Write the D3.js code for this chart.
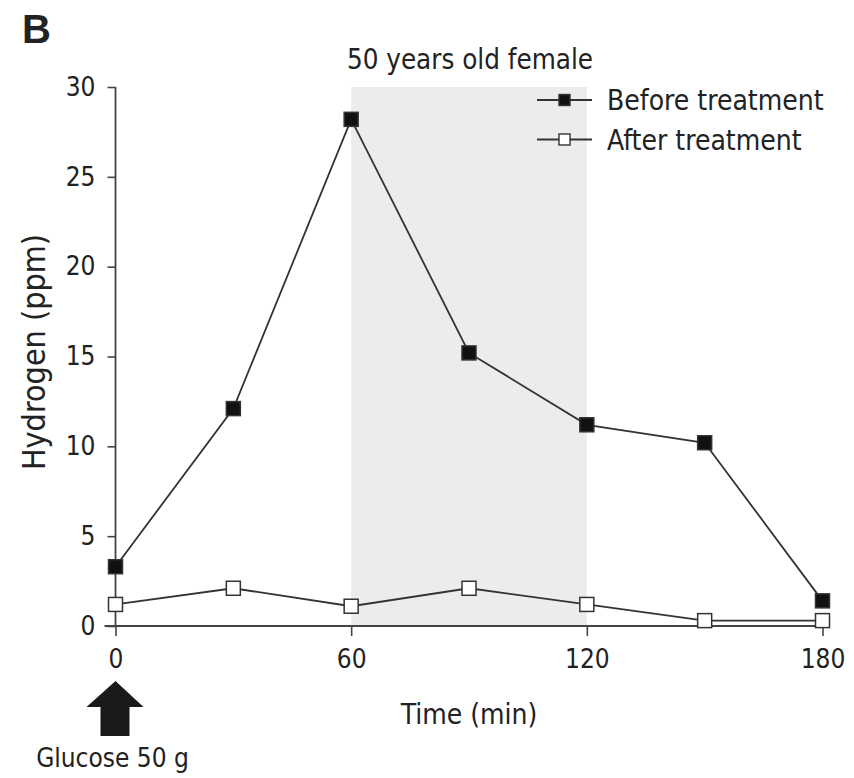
<!DOCTYPE html>
<html>
<head>
<meta charset="utf-8">
<script src="https://cdn.jsdelivr.net/npm/d3@7"></script>
<style>
  body { margin: 0; background: #fff; }
  svg text { font-family: "Liberation Sans Narrow", "DejaVu Sans Condensed", Arial, sans-serif; fill: #222; }
</style>
</head>
<body>
<svg id="chart" width="854" height="778"></svg>
<script>
// Data
const times = [0, 30, 60, 90, 120, 150, 180];
const beforeTreatment = [3.3, 12.1, 28.2, 15.2, 11.2, 10.2, 1.4];
const afterTreatment = [1.2, 2.1, 1.1, 2.1, 1.2, 0.3, 0.3];
const xTicks = [0, 60, 120, 180];
const yTicks = [0, 5, 10, 15, 20, 25, 30];
const shadedWindow = [60, 120];

const svg = d3.select("#chart");

const x = d3.scaleLinear().domain([0, 180]).range([115.5, 822.5]);
const y = d3.scaleLinear().domain([0, 30]).range([626, 87]);

// panel letter
svg.append("text")
    .attr("x", 22).attr("y", 43)
    .style("font-family", "Liberation Sans, Arial, sans-serif")
    .style("font-weight", "bold")
    .style("font-size", "40px")
    .text("B");

// shaded window
svg.append("rect")
    .attr("x", x(shadedWindow[0]))
    .attr("y", y(30))
    .attr("width", x(shadedWindow[1]) - x(shadedWindow[0]))
    .attr("height", y(0) - y(30))
    .attr("fill", "#ececec");

svg.append("text")
    .attr("x", 470).attr("y", 69)
    .attr("text-anchor", "middle")
    .style("font-size", "27.5px")
    .text("50 years old female");

// axes
const yAxis = svg.append("g")
    .attr("transform", `translate(${x(0)},0)`)
    .call(d3.axisLeft(y).tickValues(yTicks).tickSize(10).tickPadding(10));

const xAxis = svg.append("g")
    .attr("transform", `translate(0,${y(0)})`)
    .call(d3.axisBottom(x).tickValues(xTicks).tickSize(10).tickPadding(14));

[xAxis, yAxis].forEach(g => {
    g.select(".domain").attr("stroke", "#444").attr("stroke-width", 1.8);
    g.selectAll(".tick line").attr("stroke", "#444").attr("stroke-width", 1.6);
    g.selectAll(".tick text")
        .style("font-family", "Liberation Sans Narrow, DejaVu Sans Condensed, Arial, sans-serif")
        .style("font-size", "26px")
        .attr("fill", "#222");
});
yAxis.select(".domain").attr("d", `M0,${y(30)}V${y(0)}`);
yAxis.selectAll(".tick line").attr("x2", -8);
xAxis.select(".domain").attr("d", `M${x(0) - 11},0H${x(180)}`);

// axis titles
svg.append("text")
    .attr("transform", `translate(45,352) rotate(-90)`)
    .attr("text-anchor", "middle")
    .style("font-size", "32px")
    .text("Hydrogen (ppm)");

svg.append("text")
    .attr("x", 469).attr("y", 724)
    .attr("text-anchor", "middle")
    .style("font-size", "28px")
    .text("Time (min)");

// glucose arrow
const ax = x(0);
svg.append("path")
    .attr("d", `M${ax},681 L${ax + 28},707 L${ax + 14},707 L${ax + 14},736 L${ax - 15},736 L${ax - 15},707 L${ax - 29},707 Z`)
    .attr("fill", "#1a1a1a");

svg.append("text")
    .attr("x", ax - 3).attr("y", 767)
    .attr("text-anchor", "middle")
    .style("font-size", "26px")
    .text("Glucose 50 g");

// series
const line = d3.line().x((d, i) => x(times[i])).y(d => y(d));
const series = [
    { name: "Before treatment", values: beforeTreatment, fill: "#111" },
    { name: "After treatment", values: afterTreatment, fill: "#fff" }
];

series.slice().reverse().forEach(s => {
    svg.append("path")
        .datum(s.values)
        .attr("d", line)
        .attr("fill", "none")
        .attr("stroke", "#333")
        .attr("stroke-width", 1.8);
});

const ms = 14;
series.slice().reverse().forEach(s => {
    svg.append("g").selectAll("rect")
        .data(s.values)
        .join("rect")
        .attr("x", (d, i) => x(times[i]) - ms / 2)
        .attr("y", d => y(d) - ms / 2)
        .attr("width", ms).attr("height", ms)
        .attr("fill", s.fill)
        .attr("stroke", "#333")
        .attr("stroke-width", 1.5);
});

// legend
const legend = svg.append("g").attr("transform", "translate(537,100)");
series.forEach((s, i) => {
    const g = legend.append("g").attr("transform", `translate(0,${i * 39.5})`);
    g.append("line").attr("x1", 0).attr("x2", 55).attr("y1", 0).attr("y2", 0)
        .attr("stroke", "#333").attr("stroke-width", 1.8);
    g.append("rect").attr("x", 27.5 - 5.5).attr("y", -5.5).attr("width", 11).attr("height", 11)
        .attr("fill", s.fill).attr("stroke", "#333").attr("stroke-width", 1.4);
    g.append("text").attr("x", 70).attr("y", 10)
        .style("font-size", "28px")
        .text(s.name);
});
</script>
</body>
</html>
